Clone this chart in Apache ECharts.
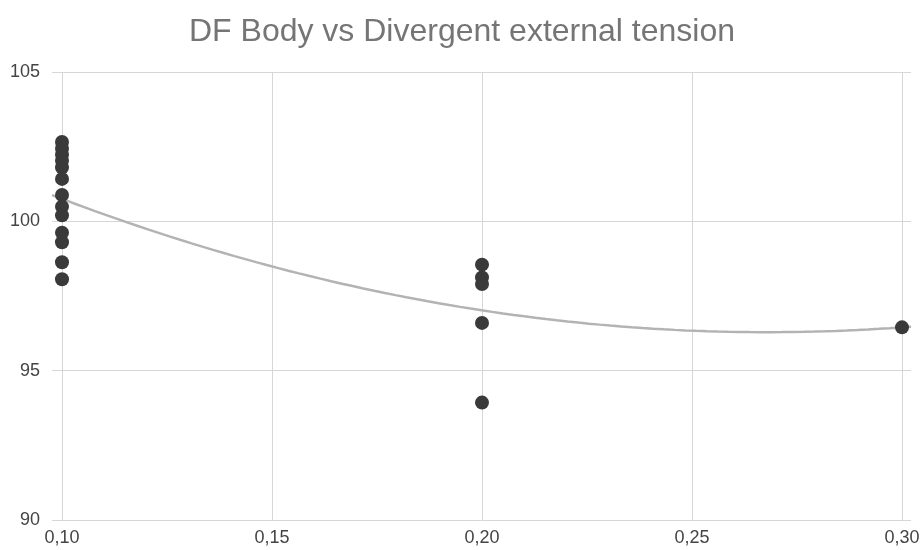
<!DOCTYPE html>
<html><head><meta charset="utf-8">
<script src="https://cdn.jsdelivr.net/npm/echarts@6/dist/echarts.min.js"></script>
<style>html,body{margin:0;padding:0;background:#fff}#c{width:924px;height:550px}</style>
</head><body><div id="c"></div>
<script>
const title = 'DF Body vs Divergent external tension';
const xTicks = [0.10, 0.15, 0.20, 0.25, 0.30];
const yTicks = [90, 95, 100, 105];
const tension010 = [102.66, 102.43, 102.23, 102.03, 101.80, 101.42, 100.88, 100.49, 100.20, 99.62, 99.30, 98.63, 98.06];
const tension020 = [98.55, 98.12, 97.90, 96.60, 93.93];
const tension030 = [96.45];

const points = [];
tension010.forEach(v => points.push([0.10, v]));
tension020.forEach(v => points.push([0.20, v]));
tension030.forEach(v => points.push([0.30, v]));

// quadratic least-squares trendline computed from the data
function fitQuad(pts) {
  let S = [0,0,0,0,0], T = [0,0,0];
  pts.forEach(([x,y]) => { let p = 1; for (let k=0;k<5;k++){S[k]+=p; if(k<3)T[k]+=p*y; p*=x;} });
  const A = [[S[0],S[1],S[2],T[0]],[S[1],S[2],S[3],T[1]],[S[2],S[3],S[4],T[2]]];
  for (let i=0;i<3;i++){ for(let j=i+1;j<3;j++){ const f=A[j][i]/A[i][i]; for(let k=i;k<4;k++) A[j][k]-=f*A[i][k]; } }
  const c=[0,0,0];
  for (let i=2;i>=0;i--){ let s=A[i][3]; for(let k=i+1;k<3;k++) s-=A[i][k]*c[k]; c[i]=s/A[i][i]; }
  return c;
}
const coef = fitQuad(points);
const xPadMin = 0.0976, xPadMax = 0.3022;
const trend = [];
for (let i=0;i<=80;i++){ const x = xPadMin + (xPadMax-xPadMin)*i/80; trend.push([x, coef[0]+coef[1]*x+coef[2]*x*x]); }

const chart = echarts.init(document.getElementById('c'), null, {renderer:'canvas'});
const gridTop = 72, gridBottom = 30;
chart.setOption({
  animation:false,
  backgroundColor:'#fff',
  title:{text:title,left:'center',top:11,textStyle:{fontFamily:'Liberation Sans',fontSize:32,fontWeight:'normal',color:'#757575'}},
  grid:[
    {left:52,right:13,top:gridTop,bottom:gridBottom},
    {left:62,right:22,top:gridTop,bottom:gridBottom}
  ],
  xAxis:[
    {gridIndex:0,type:'value',min:xPadMin,max:xPadMax,show:false,splitLine:{show:false}},
    {gridIndex:1,type:'value',min:xTicks[0],max:xTicks[xTicks.length-1],interval:0.05,
     axisLine:{show:false},axisTick:{show:false},
     splitLine:{show:true,lineStyle:{color:'#d6d6d6',width:1}},
     axisLabel:{margin:9,fontFamily:'Liberation Sans',fontSize:18,color:'#444',formatter:v=>v.toFixed(2).replace('.',',')}}
  ],
  yAxis:[
    {gridIndex:0,type:'value',min:yTicks[0],max:yTicks[yTicks.length-1],interval:5,
     axisLine:{show:false},axisTick:{show:false},
     splitLine:{show:true,lineStyle:{color:'#d6d6d6',width:1}},
     axisLabel:{margin:12,fontFamily:'Liberation Sans',fontSize:18,color:'#444'}},
    {gridIndex:1,type:'value',min:yTicks[0],max:yTicks[yTicks.length-1],interval:5,show:false,splitLine:{show:false}}
  ],
  series:[
    {type:'line',xAxisIndex:0,yAxisIndex:0,data:trend,showSymbol:false,smooth:false,z:2,
     lineStyle:{color:'#b3b3b3',width:2.5}},
    {type:'scatter',xAxisIndex:1,yAxisIndex:1,data:points,symbolSize:14,z:3,
     itemStyle:{color:'#3a3a3a',opacity:1}}
  ]
});
</script></body></html>
